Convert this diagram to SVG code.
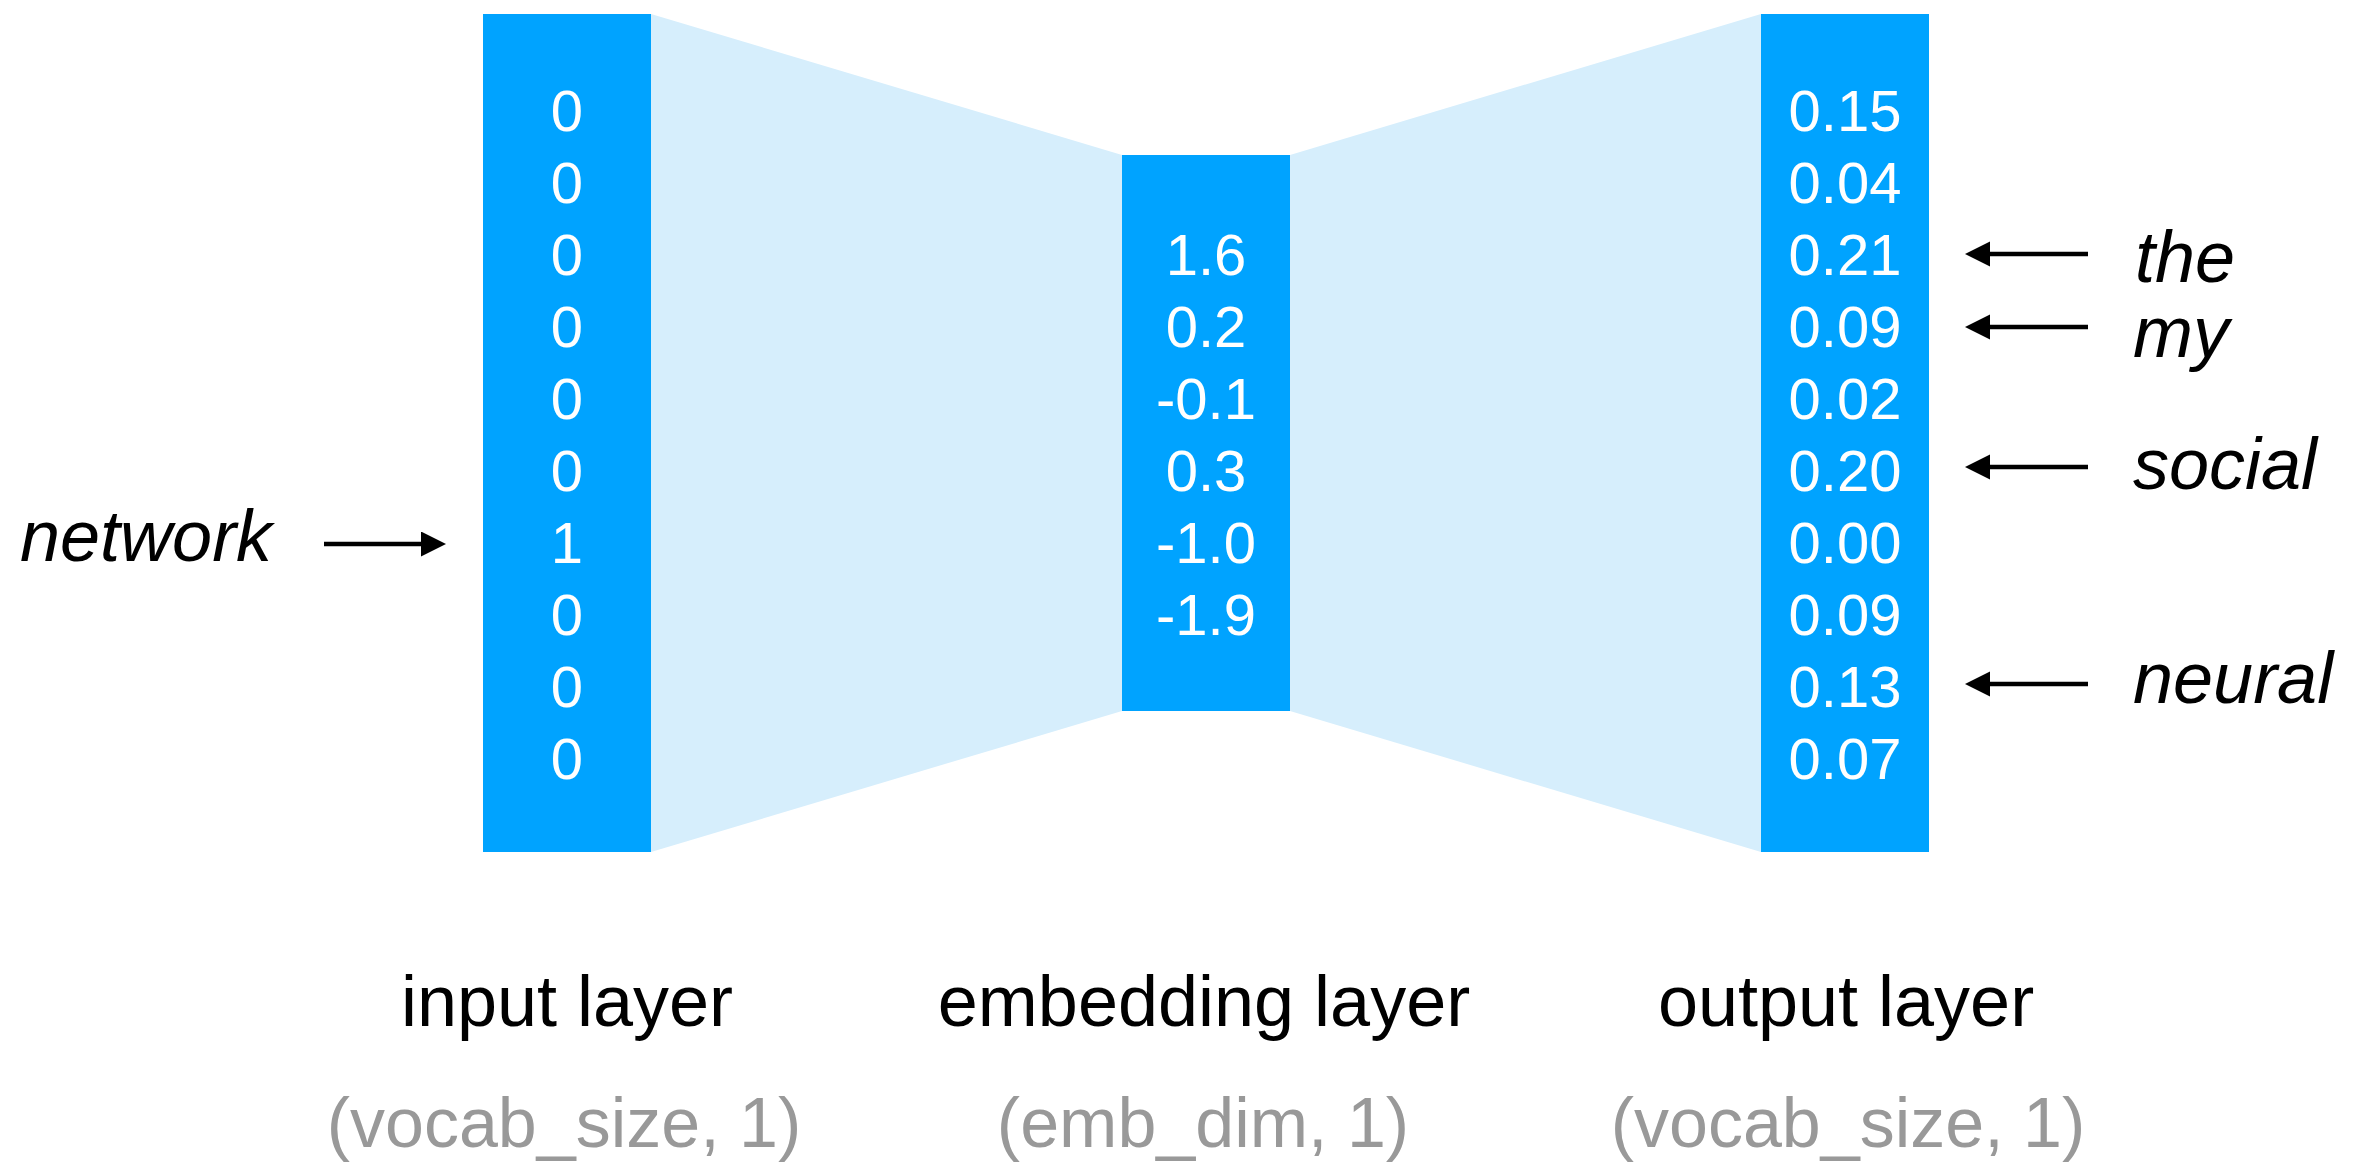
<svg xmlns="http://www.w3.org/2000/svg" width="2355" height="1164" viewBox="0 0 2355 1164">
<style>
.layer{fill:#00A3FF}
.fan{fill:#D6EEFC}
.val{font-family:"Liberation Sans",Arial,sans-serif;font-size:58px;fill:#fff;text-anchor:middle}
.word{font-family:"Liberation Sans",Arial,sans-serif;font-size:72px;font-style:italic;fill:#000}
.title{font-family:"Liberation Sans",Arial,sans-serif;font-size:72px;fill:#000;text-anchor:middle}
.shape{font-family:"Liberation Sans",Arial,sans-serif;font-size:70px;fill:#999;text-anchor:middle}
.arrow{stroke:#000;stroke-width:4.5;fill:none;marker-end:url(#head)}
</style>
<defs>
<marker id="head" markerUnits="userSpaceOnUse" markerWidth="26" markerHeight="26" refX="2" refY="12.5" orient="auto">
<path d="M0,0 L25,12.5 L0,25 z" fill="#000"/>
</marker>
</defs>
<rect width="2355" height="1164" fill="#fff"/>
<g id="fans">
<polygon class="fan" points="651,14 1122,155 1122,711 651,852"/>
<polygon class="fan" points="1290,155 1761,14 1761,852 1290,711"/>
</g>
<g id="input-layer">
<rect class="layer" x="483" y="14" width="168" height="838"/>
<text class="val" x="567" y="131">0</text>
<text class="val" x="567" y="203">0</text>
<text class="val" x="567" y="275">0</text>
<text class="val" x="567" y="347">0</text>
<text class="val" x="567" y="419">0</text>
<text class="val" x="567" y="491">0</text>
<text class="val" x="567" y="563">1</text>
<text class="val" x="567" y="635">0</text>
<text class="val" x="567" y="707">0</text>
<text class="val" x="567" y="779">0</text>
<text class="title" x="567" y="1026">input layer</text>
<text class="shape" x="564" y="1147">(vocab_size, 1)</text>
</g>
<g id="embedding-layer">
<rect class="layer" x="1122" y="155" width="168" height="556"/>
<text class="val" x="1206" y="275">1.6</text>
<text class="val" x="1206" y="347">0.2</text>
<text class="val" x="1206" y="419">-0.1</text>
<text class="val" x="1206" y="491">0.3</text>
<text class="val" x="1206" y="563">-1.0</text>
<text class="val" x="1206" y="635">-1.9</text>
<text class="title" x="1204" y="1026">embedding layer</text>
<text class="shape" x="1203" y="1147">(emb_dim, 1)</text>
</g>
<g id="output-layer">
<rect class="layer" x="1761" y="14" width="168" height="838"/>
<text class="val" x="1845" y="131">0.15</text>
<text class="val" x="1845" y="203">0.04</text>
<text class="val" x="1845" y="275">0.21</text>
<text class="val" x="1845" y="347">0.09</text>
<text class="val" x="1845" y="419">0.02</text>
<text class="val" x="1845" y="491">0.20</text>
<text class="val" x="1845" y="563">0.00</text>
<text class="val" x="1845" y="635">0.09</text>
<text class="val" x="1845" y="707">0.13</text>
<text class="val" x="1845" y="779">0.07</text>
<text class="title" x="1846" y="1026">output layer</text>
<text class="shape" x="1848" y="1147">(vocab_size, 1)</text>
</g>
<g id="word-network"><text class="word" x="20" y="561">network</text></g>
<g id="word-the"><text class="word" x="2135" y="282">the</text></g>
<g id="word-my"><text class="word" x="2133" y="357">my</text></g>
<g id="word-social"><text class="word" x="2133" y="489">social</text></g>
<g id="word-neural"><text class="word" x="2133" y="703">neural</text></g>
<g id="connectors">
<line class="arrow" x1="324" y1="544" x2="423" y2="544"/>
<line class="arrow" x1="2088" y1="254" x2="1988" y2="254"/>
<line class="arrow" x1="2088" y1="327" x2="1988" y2="327"/>
<line class="arrow" x1="2088" y1="467" x2="1988" y2="467"/>
<line class="arrow" x1="2088" y1="684" x2="1988" y2="684"/>
</g>
</svg>
